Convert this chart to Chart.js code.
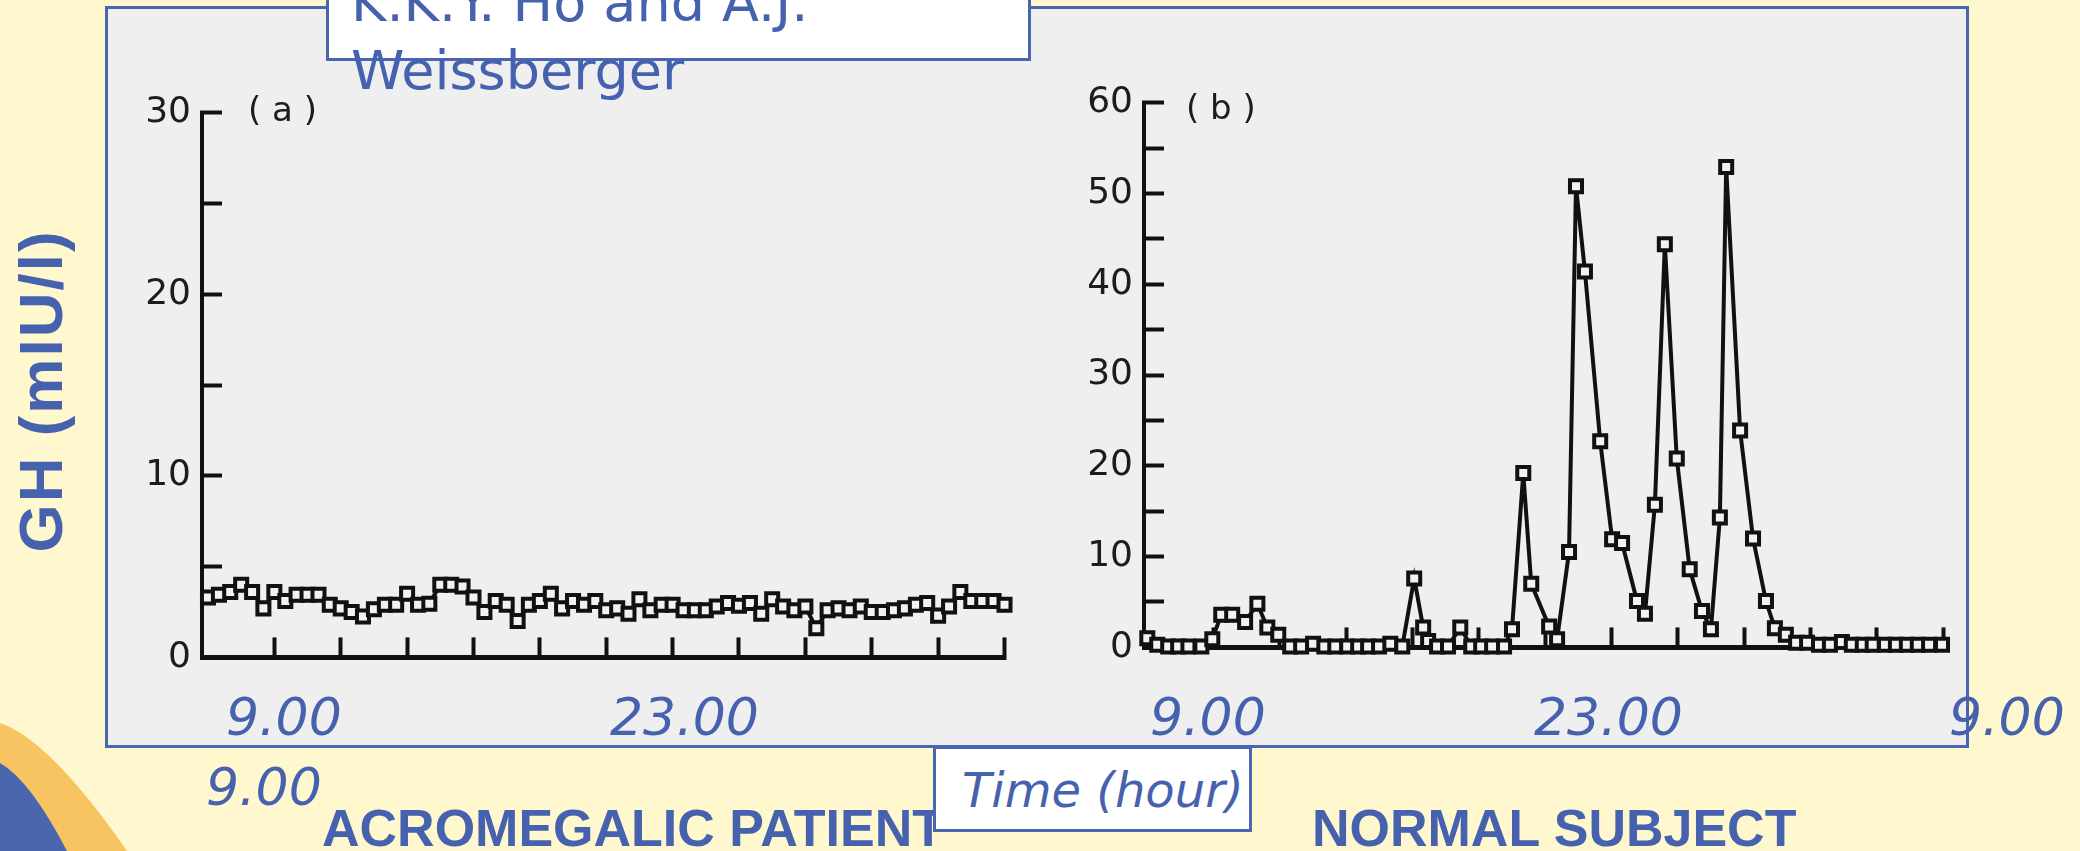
<!DOCTYPE html>
<html>
<head>
<meta charset="utf-8">
<script src="https://cdn.jsdelivr.net/npm/chart.js@4.4.1/dist/chart.umd.min.js"></script>
<style>
html,body{margin:0;padding:0;}
body{width:2080px;height:851px;position:relative;overflow:hidden;background:#FFF7CE;font-family:"DejaVu Sans",sans-serif;}
#frame{position:absolute;left:105px;top:6px;width:1858px;height:736px;border:3px solid #4A66B2;background:#EFEFEF;}
canvas{position:absolute;}
#cA{left:110px;top:60px;}
#cB{left:1050px;top:50px;}
.blue{position:absolute;color:#4662AF;white-space:nowrap;line-height:1;}
.ital{font-family:"DejaVu Sans",sans-serif;font-style:italic;font-size:52px;}
.bold{font-family:"Liberation Sans",Arial,sans-serif;font-weight:bold;font-size:52px;}
.scan{position:absolute;color:#1c1c1c;font-family:"DejaVu Sans",sans-serif;font-size:34px;line-height:1;white-space:pre;}
#author{position:absolute;left:326px;top:-12px;width:699px;height:67px;border:3px solid #4A66B2;background:#fff;}
#authorText{position:absolute;left:351px;top:-31px;font-family:"DejaVu Sans",sans-serif;font-size:54px;line-height:68px;color:#4662AF;white-space:nowrap;}
#timeBox{position:absolute;left:933px;top:746px;width:313px;height:80px;border:3px solid #4A66B2;background:#fff;}
#gh{position:absolute;left:41px;top:391px;transform:translate(-50%,-50%) rotate(-90deg);font-family:"Liberation Sans",Arial,sans-serif;font-weight:bold;font-size:62px;color:#4662AF;white-space:nowrap;line-height:1;letter-spacing:2px;}
svg{position:absolute;left:0;top:680px;}
</style>
</head>
<body>
<svg width="200" height="171">
  <path d="M0,43 Q50,60 127,171 L0,171 Z" fill="#F8C462"/>
  <path d="M0,83 Q30,100 67,171 L0,171 Z" fill="#4A66AE"/>
</svg>
<div id="frame"></div>
<canvas id="cA" width="907" height="650"></canvas>
<canvas id="cB" width="910" height="650"></canvas>
<div class="scan" style="left:248px;top:92px;">( a )</div>
<div class="scan" style="left:1186px;top:90px;">( b )</div>

<div class="blue ital" style="left:226px;top:691px;">9.00</div>
<div class="blue ital" style="left:610px;top:691px;">23.00</div>
<div class="blue ital" style="left:1150px;top:691px;">9.00</div>
<div class="blue ital" style="left:1534px;top:691px;">23.00</div>
<div class="blue ital" style="left:1949px;top:691px;">9.00</div>
<div class="blue ital" style="left:206px;top:761px;">9.00</div>

<div class="blue bold" style="left:322px;top:802px;">ACROMEGALIC PATIENT</div>
<div class="blue bold" style="left:1312px;top:802px;">NORMAL SUBJECT</div>

<div id="timeBox"></div>
<div class="blue ital" style="left:962px;top:766px;font-size:48px;">Time (hour)</div>

<div id="author"></div>
<div id="authorText">K.K.Y. Ho and A.J.<br>Weissberger</div>

<div id="gh">GH (mIU/l)</div>

<script>
// ---- data (hours after 9.00, GH in mIU/l) ----
const tickHours = [0, 2, 4, 6, 8, 10, 12, 14, 16, 18, 20, 22, 24];

const timesA = [0,0.33,0.67,1,1.33,1.67,2,2.33,2.67,3,3.33,3.67,4,4.33,4.67,5,5.33,5.67,6,6.33,6.67,7,7.33,7.67,8,8.33,8.67,9,9.33,9.67,10,10.33,10.67,11,11.33,11.67,12,12.33,12.67,13,13.33,13.67,14,14.33,14.67,15,15.33,15.67,16,16.33,16.67,17,17.33,17.67,18,18.33,18.67,19,19.33,19.67,20,20.33,20.67,21,21.33,21.67,22,22.33,22.67,23,23.33,23.67,24];
const ghAcromegalic = [3.3,3.45,3.6,4.0,3.6,2.7,3.6,3.1,3.45,3.45,
  3.45,2.9,2.7,2.5,2.25,2.65,2.9,2.9,3.5,2.9,
  2.95,4.0,4.0,3.9,3.3,2.5,3.1,2.9,2.0,2.9,
  3.1,3.5,2.7,3.1,2.9,3.1,2.6,2.7,2.4,3.2,
  2.6,2.9,2.9,2.6,2.6,2.6,2.8,3.0,2.85,3.0,
  2.4,3.2,2.8,2.6,2.8,1.6,2.6,2.7,2.6,2.8,
  2.5,2.5,2.6,2.7,2.9,3.0,2.3,2.8,3.6,3.1,
  3.1,3.1,2.9];

const timesB = [0,0.30,0.63,0.93,1.24,1.63,1.96,2.23,2.56,2.95,
  3.32,3.62,3.95,4.31,4.64,5.00,5.34,5.67,6.03,6.36,
  6.66,6.99,7.33,7.69,8.05,8.32,8.47,8.74,9.07,9.44,
  9.77,10.07,10.40,10.76,11.00,11.34,11.58,12.12,12.36,12.72,
  12.93,13.20,13.66,14.02,14.32,14.77,15.01,15.31,15.61,15.97,
  16.36,16.73,17.00,17.27,17.46,17.88,18.27,18.66,18.93,19.26,
  19.57,19.90,20.26,20.59,20.95,21.25,21.58,21.88,22.25,22.58,
  22.91,23.24,23.58,23.97];
const ghNormal = [1.0,0.3,0.1,0.1,0.1,0.1,0.9,3.6,3.6,2.8,
  4.8,2.2,1.4,0.1,0.1,0.4,0.1,0.1,0.1,0.1,
  0.1,0.1,0.4,0.1,7.6,2.2,0.7,0.1,0.1,2.2,
  0.1,0.1,0.1,0.1,2.0,19.2,7.0,2.3,0.9,10.5,
  50.8,41.4,22.7,11.9,11.5,5.1,3.7,15.7,44.4,20.8,
  8.6,4.0,2.0,14.3,52.9,23.9,12.0,5.1,2.1,1.4,
  0.5,0.5,0.3,0.3,0.6,0.3,0.3,0.3,0.3,0.3,
  0.3,0.3,0.3,0.3];

const yMaxA = 30, yMaxB = 60;

// ---- charts ----
const INK = '#111111';
function makeChart(id, times, values, yMax, xMin, yAxisW, padTop, padRight) {
  const pts = times.map((t, i) => ({x: t, y: values[i]}));
  return new Chart(document.getElementById(id), {
    type: 'line',
    data: { datasets: [{
      data: pts,
      borderColor: INK,
      borderWidth: 4,
      tension: 0,
      pointStyle: 'rect',
      pointRadius: 8.5,
      pointBorderWidth: 4,
      pointBackgroundColor: '#F2F2F2',
      pointBorderColor: INK,
      clip: false
    }]},
    options: {
      responsive: false,
      animation: false,
      devicePixelRatio: 1,
      layout: { padding: { top: padTop, right: padRight, left: 0, bottom: 0 } },
      plugins: { legend: { display: false }, tooltip: { enabled: false } },
      scales: {
        x: {
          type: 'linear',
          min: xMin, max: 24,
          afterBuildTicks: s => { s.ticks = tickHours.map(v => ({value: v})); },
          afterFit: s => { s.height = 37; },
          ticks: { display: false },
          grid: {
            drawOnChartArea: false, drawTicks: true, tickLength: -20, tickWidth: 4,
            tickColor: c => (c.tick && c.tick.value === 0) ? 'rgba(0,0,0,0)' : INK
          },
          border: { display: true, color: INK, width: 5 }
        },
        y: {
          min: 0, max: yMax,
          afterFit: s => { s.width = yAxisW; },
          ticks: {
            stepSize: 5, padding: 31, color: '#1c1c1c',
            font: { family: 'DejaVu Sans', size: 36 },
            callback: v => (v % 10 === 0 ? String(v) : '')
          },
          grid: { drawOnChartArea: false, drawTicks: true, tickLength: -20, tickWidth: 4, tickColor: INK },
          border: { display: true, color: INK, width: 4 }
        }
      }
    }
  });
}

makeChart('cA', timesA, ghAcromegalic, yMaxA, -0.18, 92, 39, 10);
makeChart('cB', timesB, ghNormal, yMaxB, -0.1, 94, 39, 17);
</script>
</body>
</html>
